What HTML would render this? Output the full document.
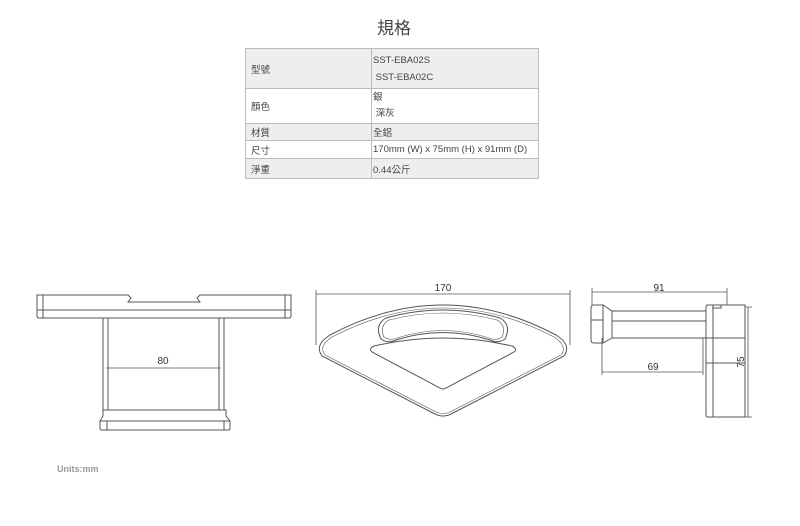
<!DOCTYPE html>
<html><head><meta charset="utf-8"><style>
body{margin:0;width:800px;height:526px;background:#fff;position:relative;font-family:"Liberation Sans","Noto Sans CJK TC",sans-serif;overflow:hidden}
.t{position:absolute;left:377px;top:14px;font-size:17px;color:#444}
table{position:absolute;left:245px;top:48px;width:294px;border-collapse:collapse;font-size:9.5px;color:#444;table-layout:fixed}
td{border:1px solid #bbb;padding:0 0 0 1px;vertical-align:middle;white-space:nowrap;overflow:hidden}
td.a{width:120px;padding-left:5px}
tr.g td{background:#eee}
.u{position:absolute;left:57px;top:464px;font-size:9px;font-weight:bold;color:#999}
svg{position:absolute;left:0;top:0}
</style></head><body>
<div class="t">規格</div>
<table>
<tr class="g" style="height:40px"><td class="a">型號</td><td style="line-height:17px">SST-EBA02S<br>&nbsp;SST-EBA02C</td></tr>
<tr style="height:35px"><td class="a">顏色</td><td style="line-height:16px">銀<br>&nbsp;深灰</td></tr>
<tr class="g" style="height:17px"><td class="a">材質</td><td>全鋁</td></tr>
<tr style="height:18px"><td class="a">尺寸</td><td>170mm (W) x 75mm (H) x 91mm (D)</td></tr>
<tr class="g" style="height:20px"><td class="a">淨重</td><td>0.44公斤</td></tr>
</table>
<div class="u">Units:mm</div>
<svg width="800" height="526" fill="none" stroke="#555" stroke-width="1" font-family="Liberation Sans, sans-serif" font-size="10">
<!-- left -->
<path d="M37 295H128L131 298L128 302H200L197 298L200 295H291V316Q291 318 289 318H39Q37 318 37 316Z"/>
<path d="M37 310H291M43 295V318M285 295V318"/>
<path d="M103 318V410M108 318V410M219 318V410M224 318V410"/>
<path d="M103 410H226V416L230 421V428Q230 430 228 430H102Q100 430 100 428V421L103 416Z"/>
<path d="M100 421H230M107 421V430M224 421V430"/>
<path d="M106 368H221" stroke-width="0.8"/>
<text x="163" y="364" fill="#333" stroke="none" text-anchor="middle">80</text>
<!-- middle -->
<path d="M316 290V345M570 290V345M316 294H570" stroke-width="0.8"/>
<text x="443" y="291" fill="#333" stroke="none" text-anchor="middle">170</text>
<path d="M330 335Q443 275 556 335Q572 345 564 356L451 414Q443 418 435 414L322 356Q314 345 330 335Z"/>
<path d="M332 337Q443 279 554 337Q568 346 561 355L450 412Q443 415 436 412L325 355Q318 346 332 337Z" stroke-width="0.6"/>
<path d="M374 346Q443 330 512 346Q518 349 514 352L446 388Q443 390 440 388L372 352Q368 349 374 346Z"/>
<path d="M386 318Q443 302 500 318Q512 325 505 339Q498 344 490 340Q443 325 396 340Q388 344 381 339Q374 325 386 318Z"/>
<path d="M389 320Q443 306 497 320Q507 326 502 337Q496 341 489 338Q443 323 397 338Q390 341 384 337Q379 326 389 320Z" stroke-width="0.6"/>
<!-- right -->
<path d="M592 288V305M727 288V305M592 292H727M602 338V375M703 338V375M602 372H703M745 307H752M745 417H752M748 307V417" stroke-width="0.8"/>
<text x="659" y="291" fill="#333" stroke="none" text-anchor="middle">91</text>
<text x="653" y="370" fill="#333" stroke="none" text-anchor="middle">69</text>
<text x="744" y="362" fill="#333" stroke="none" text-anchor="middle" transform="rotate(-90 744 362)">75</text>
<path d="M594 305H603L612 311V338L603 343H594Q591 343 591 340V308Q591 305 594 305Z"/>
<path d="M591 320H603M603 305V343"/>
<path d="M612 311H706M612 338H706M612 321H706"/>
<path d="M708 305H745V417H708Q706 417 706 415V307Q706 305 708 305Z"/>
<path d="M713 305V417M712 308H721V305M706 338H745M706 363H745"/>
</svg>
</body></html>
